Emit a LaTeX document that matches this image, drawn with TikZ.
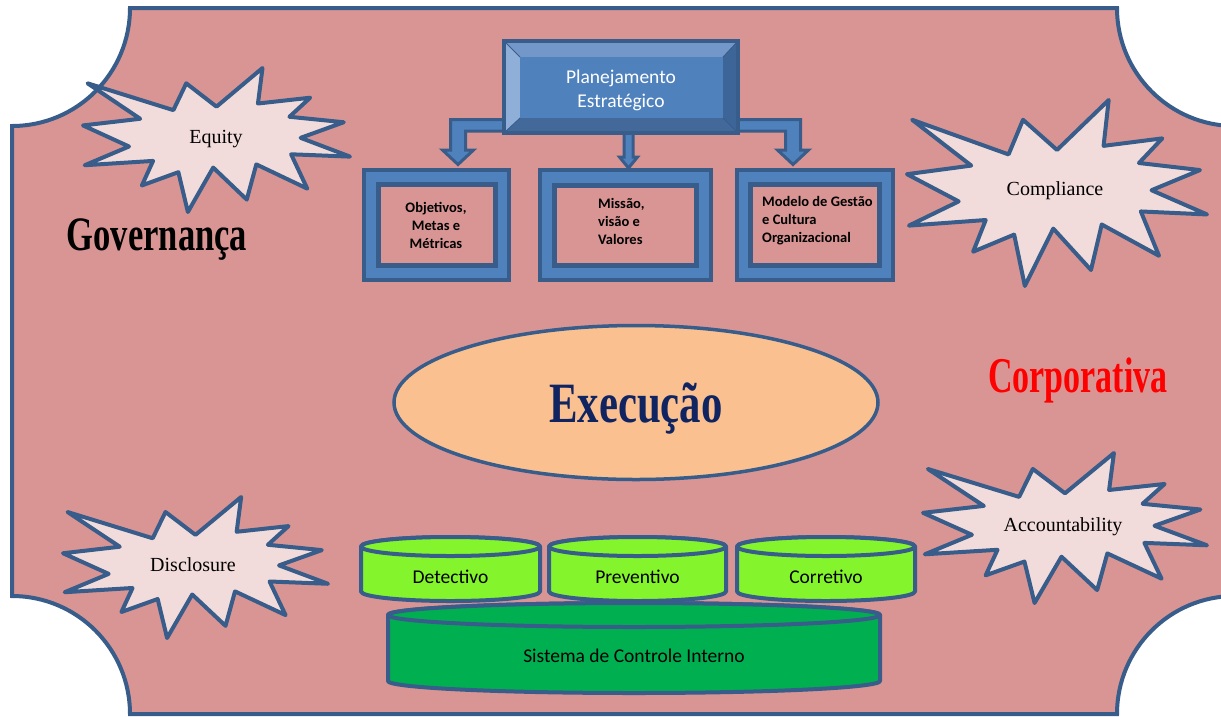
\documentclass[tikz,border=0pt]{standalone}
\usepackage{fontspec}
\usepackage{graphicx}
\newfontfamily\calibri{Carlito}
\newfontfamily\heavy{Liberation Serif}
\definecolor{plaque}{HTML}{D99594}
\definecolor{edgeblue}{HTML}{385D8A}
\definecolor{burstfill}{HTML}{F2DCDB}
\definecolor{blueone}{HTML}{4F81BD}
\definecolor{bevtop}{HTML}{7397C9}
\definecolor{bevleft}{HTML}{8FAED8}
\definecolor{bevright}{HTML}{3D6597}
\definecolor{bevbot}{HTML}{43699A}
\definecolor{peach}{HTML}{FAC090}
\definecolor{navy}{HTML}{0F2461}
\definecolor{limegreen}{HTML}{84F52C}
\definecolor{darkgreen}{HTML}{00B050}
\newcommand\burstat[4]{%
  \path[burstshape, shift={(#1,#2)}, x=#3pt, y=-#4pt]
  (0.5,0.2685) -- (0.6723,0) -- (0.6553,0.2465) -- (0.8509,0.2063) -- (0.7732,0.3387)
  -- (0.9767,0.3767) -- (0.8151,0.4850) -- (1,0.6153) -- (0.7795,0.5992) -- (0.8400,0.8377)
  -- (0.6491,0.6693) -- (0.6133,0.9138) -- (0.4876,0.6914) -- (0.3928,1) -- (0.3572,0.7235)
  -- (0.2205,0.8156) -- (0.2624,0.6452) -- (0.0063,0.6753) -- (0.1723,0.5451) -- (0,0.3988)
  -- (0.2142,0.3526) -- (0.0171,0.1063) -- (0.3385,0.2926) -- (0.3867,0.1063) -- cycle;}
\newcommand\cylat[6]{%
  \path[cylshape, fill=#6] (#1-#2,#3) -- (#1-#2,#4)
    arc[start angle=180, end angle=0, x radius=#2, y radius=#5] -- (#1+#2,#3)
    arc[start angle=0, end angle=-180, x radius=#2, y radius=#5] -- cycle;
  \path[cylshape, fill=#6] (#1,#3) ellipse[x radius=#2, y radius=#5];}
\begin{document}
\begin{tikzpicture}[x=1pt,y=-1pt,
  burstshape/.style={fill=burstfill, draw=edgeblue, line width=4pt, line join=round},
  burstlabel/.style={anchor=base, inner sep=0pt, font=\heavy\fontsize{20}{24}\selectfont},
  cylshape/.style={draw=edgeblue, line width=4pt, line join=round},
  cyllabel/.style={anchor=base, inner sep=0pt, font=\calibri\fontsize{19.5}{24}\selectfont},
  blockarrow/.style={fill=blueone, draw=edgeblue, line width=3pt, line join=miter},
  outerbox/.style={fill=blueone, draw=edgeblue, line width=4pt, inner sep=0pt},
  innerbox/.style={fill=plaque, draw=edgeblue, line width=5pt, inner sep=0pt},
  boxlabel/.style={inner sep=0pt, font=\calibri\bfseries\fontsize{14.5}{17.8}\selectfont},
  bigword/.style={anchor=base, inner sep=0pt}]
\useasboundingbox (0,0) rectangle (1221,716);
\fill[white] (0,0) rectangle (1221,716);
\clip (0,0) rectangle (1221,716);
% plaque
\draw[fill=plaque, draw=edgeblue, line width=4pt]
  (130,8) -- (1117,8) arc[start angle=180, end angle=90, radius=118]
  -- (1235,596) arc[start angle=270, end angle=180, radius=118]
  -- (130,714) arc[start angle=0, end angle=-90, radius=118]
  -- (12,126) arc[start angle=90, end angle=0, radius=118] -- cycle;
% bursts
\burstat{83}{68}{267}{144}
\burstat{907}{100}{300}{186}
\burstat{63}{497}{265}{141}
\burstat{923}{453}{284}{150}
\node[burstlabel] (equity) at (216,143) {Equity};
\node[burstlabel] (compliance) at (1055,195) {Compliance};
\node[burstlabel] (disclosure) at (193,571) {Disclosure};
\node[burstlabel] (accountability) at (1063,531) {Accountability};
% block arrows
\path[blockarrow] (510,119.5) -- (450.5,119.5) -- (450.5,150) -- (442.5,150) -- (458,164.5)
  -- (473.5,150) -- (465.5,150) -- (465.5,131) -- (510,131) -- cycle;
\path[blockarrow] (730,119.5) -- (800.5,119.5) -- (800.5,150) -- (808.5,150) -- (793,164.5)
  -- (777.5,150) -- (785.5,150) -- (785.5,131) -- (730,131) -- cycle;
\path[blockarrow] (624,125) -- (624,157) -- (619.5,157) -- (628.5,168) -- (637.5,157)
  -- (633,157) -- (633,125) -- cycle;
% planejamento bevel box
\fill[bevtop] (504,41) -- (738,41) -- (723,57) -- (520,57) -- cycle;
\fill[bevleft] (504,41) -- (520,57) -- (520,118) -- (504,133) -- cycle;
\fill[bevright] (738,41) -- (738,133) -- (723,118) -- (723,57) -- cycle;
\fill[bevbot] (504,133) -- (738,133) -- (723,118) -- (520,118) -- cycle;
\fill[blueone] (520,57) rectangle (723,118);
\draw[edgeblue, line width=0.8pt] (504,41) -- (520,57) (738,41) -- (723,57)
  (504,133) -- (520,118) (738,133) -- (723,118);
\draw[edgeblue, line width=4pt] (504,41) rectangle (738,133);
\node[text=white, align=center, inner sep=0pt, font=\calibri\fontsize{19.5}{24}\selectfont]
  (plan) at (621,90) {Planejamento\\Estratégico};
% sub boxes
\node[outerbox, minimum width=145, minimum height=110] (objout) at (436.5,225) {};
\node[innerbox, minimum width=116.5, minimum height=81] (objin) at (436.75,225) {};
\node[boxlabel, align=center] (obj) at (436,225.5) {Objetivos,\\Metas e\\Métricas};
\node[outerbox, minimum width=171, minimum height=110] (misout) at (625.5,225) {};
\node[innerbox, minimum width=142.5, minimum height=80.5] (misin) at (625.25,225.25) {};
\node[boxlabel, align=left, anchor=west] (mis) at (598,221.5) {Missão,\\visão e\\Valores};
\node[outerbox, minimum width=156, minimum height=110] (modout) at (815,225) {};
\node[innerbox, minimum width=129, minimum height=80.5] (modin) at (815,224.75) {};
\node[boxlabel, align=left, anchor=west] (mod) at (762,220.5) {Modelo de Gestão\\e Cultura\\Organizacional};
% big words
\node[bigword] (gov) at (157,250) {\scalebox{0.72}[1]{\heavy\bfseries\fontsize{48}{52}\selectfont Governança}};
\node[bigword, text=red] (corp) at (1078,392) {\scalebox{0.68}[1]{\heavy\bfseries\fontsize{50}{54}\selectfont Corporativa}};
% execucao
\draw[fill=peach, draw=edgeblue, line width=3.5pt] (636,402.5) ellipse[x radius=242, y radius=77];
\node[bigword, text=navy] (exec) at (636,422) {\scalebox{0.75}[1]{\heavy\bfseries\fontsize{57}{60}\selectfont Execução}};
% cylinders
\cylat{634}{246}{615}{681}{12}{darkgreen}
\cylat{450.5}{89.5}{546.5}{591.5}{9.5}{limegreen}
\cylat{637.5}{88.5}{546.5}{591.5}{9.5}{limegreen}
\cylat{826}{89}{546.5}{591.5}{9.5}{limegreen}
\node[cyllabel] (det) at (450.5,583) {Detectivo};
\node[cyllabel] (prev) at (637.5,583) {Preventivo};
\node[cyllabel] (corr) at (826,583) {Corretivo};
\node[cyllabel] (sci) at (634,662) {Sistema de Controle Interno};
\end{tikzpicture}
\end{document}
